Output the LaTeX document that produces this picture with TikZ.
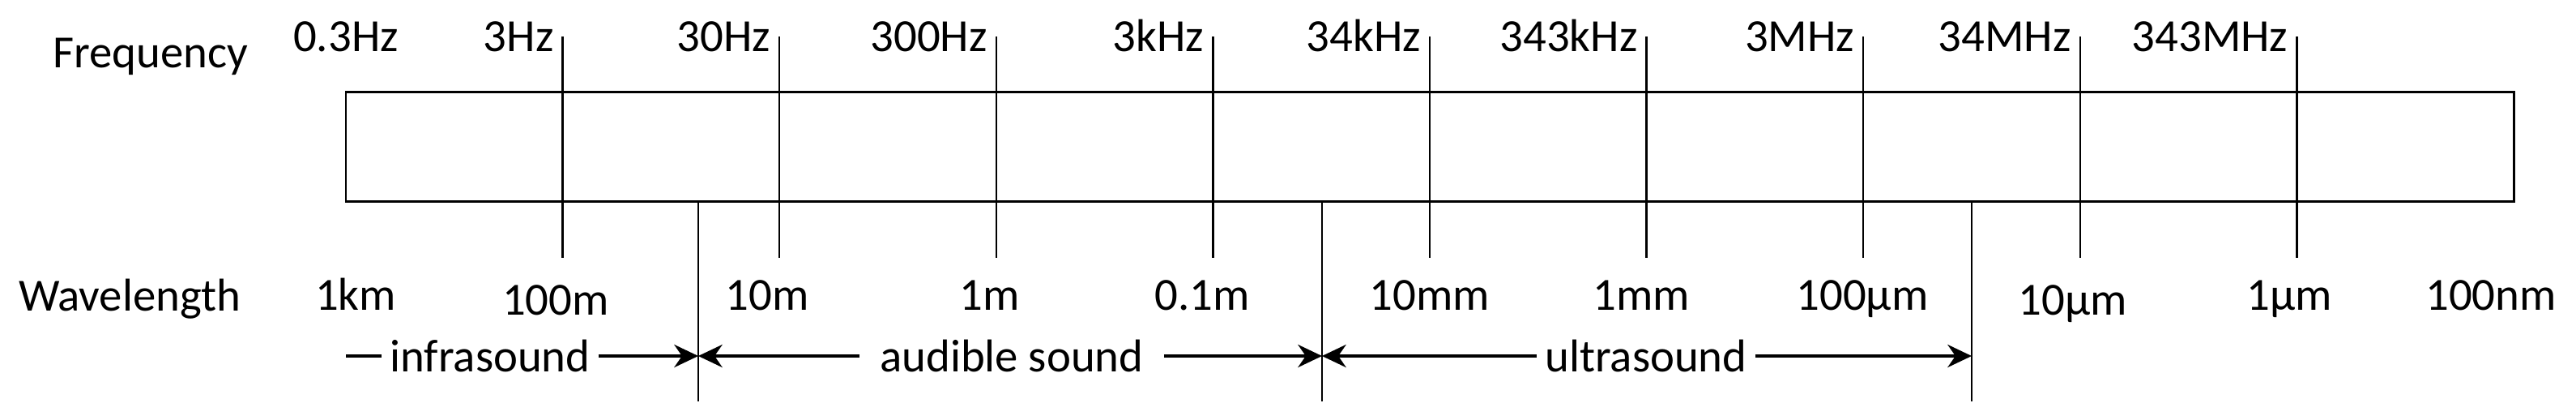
\documentclass[tikz,border=0pt]{standalone}
\usepackage{fontspec}
\setmainfont{Carlito}
\usetikzlibrary{arrows.meta,positioning}

\begin{document}
\begin{tikzpicture}[x=0.65cm,y=0.65cm,font=\fontsize{10.5}{12.5}\selectfont,
   band/.style={draw,line width=0.55pt},
   scaleline/.style={line width=0.45pt},
   rangeline/.style={line width=0.6pt},
   freq/.style={anchor=base east,inner sep=0pt},
   wave/.style={anchor=base,inner sep=0pt},
   region/.style={inner xsep=1.7pt,inner ysep=0pt},
   >={Stealth[length=5.5pt,width=5.2pt]}]
   \useasboundingbox (0,0) rectangle (31.8,5.12);

   % axis names
   \node[anchor=base] (freqname) at (1.86,4.29) {Frequency};
   \node[anchor=base] (wavename) at (1.60,1.29) {Wavelength};

   % the band with its decade lines
   \draw[band] (4.27,2.64) rectangle (31.03,3.99);
   \foreach \k in {1,...,9} {
      \coordinate (ft\k) at ({4.27+\k*2.676},4.67);
      \coordinate (wt\k) at ({4.27+\k*2.676},1.94);
      \draw[scaleline] (ft\k) -- (wt\k);
   }

   % frequency labels
   \node[anchor=base,inner sep=0pt] (f0) at (4.27,4.49) {0.3Hz};
   \foreach \lbl [count=\k] in {3Hz,30Hz,300Hz,3kHz,34kHz,343kHz,3MHz,34MHz,343MHz}
      \node[freq] (f\k) at ({4.27+\k*2.676-0.1},4.49) {\lbl};

   % wavelength labels
   \foreach \lbl/\px/\py [count=\k] in {1km/4.39/1.30,100m/6.86/1.24,10m/9.47/1.30,
         1m/12.22/1.30,0.1m/14.84/1.30,10mm/17.65/1.30,1mm/20.26/1.30,
         100µm/22.99/1.30,10µm/25.59/1.24,1µm/28.26/1.30,100nm/30.75/1.30}
      \node[wave] (w\k) at (\px,\py) {\lbl};

   % region boundaries
   \coordinate (b0) at (4.27,0.73);
   \foreach \n/\bx in {1/8.62,2/16.32,3/24.34} {
      \coordinate (s\n) at (\bx,2.64);
      \coordinate (e\n) at (\bx,0.17);
      \coordinate (b\n) at (\bx,0.73);
      \draw[scaleline] (s\n) -- (e\n);
   }

   % regions
   \node[region] (infra) at (6.05,0.73) {infrasound};
   \node[region,inner xsep=4.5pt] (audible) at (12.49,0.73) {audible sound};
   \node[region] (ultra) at (20.32,0.73) {ultrasound};

   \draw[rangeline] (b0) -- (infra.west);
   \draw[rangeline,->] (infra.east) -- (b1);
   \draw[rangeline,<-] (b1) -- (audible.west);
   \draw[rangeline,->] (audible.east) -- (b2);
   \draw[rangeline,<-] (b2) -- (ultra.west);
   \draw[rangeline,->] (ultra.east) -- (b3);
\end{tikzpicture}
\end{document}
